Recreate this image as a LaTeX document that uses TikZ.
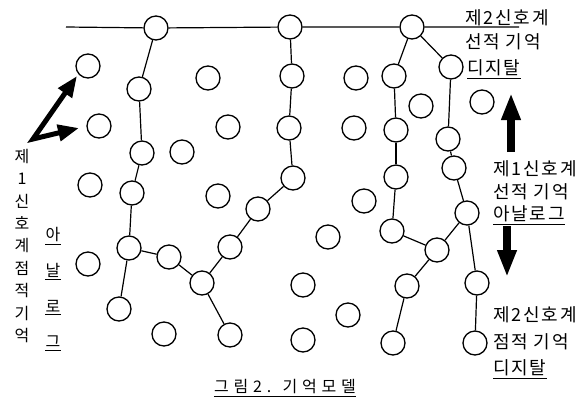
\documentclass[tikz,border=0pt]{standalone}
\usepackage{fontspec}
\setmainfont{Noto Sans CJK KR}
\newfontfamily\krfont{Noto Sans CJK KR}
\newfontfamily\lblfont[LetterSpace=10]{Noto Sans CJK KR}
\newfontfamily\capfont[LetterSpace=30]{Noto Sans CJK KR}
\usetikzlibrary{arrows.meta}
\tikzset{
  dot/.style={circle, draw, fill=white, line width=1.3pt, minimum size=24pt, inner sep=0pt},
  link/.style={line width=1.2pt},
  lbl/.style={font=\lblfont\fontsize{18}{21}\selectfont, inner sep=0pt, anchor=west},
  uline/.style={line width=0.9pt},
  bigarrow/.style={line width=7.5pt, -{Triangle[length=27pt,width=18pt]}},
  bentarrow/.style={line width=5pt, line join=miter, {Triangle[length=21pt,width=16pt]}-{Triangle[length=21pt,width=16pt]}},
}
\begin{document}
\begin{tikzpicture}[x=1pt,y=-1pt]
\useasboundingbox (0,0) rectangle (578,400);
\clip (0,0) rectangle (578,400);
% circles on the top line
\node[dot] (t1) at (156,28) {};
\node[dot] (t2) at (290,27) {};
\node[dot] (t3) at (412,27) {};
% other circles
\node[dot] (c1) at (88,66) {};
\node[dot] (c2) at (139,89) {};
\node[dot] (c3) at (208,78) {};
\node[dot] (c4) at (99,126) {};
\node[dot] (c5) at (228,127) {};
\node[dot] (c6) at (142,153) {};
\node[dot] (c7) at (182,152) {};
\node[dot] (c8) at (90,185) {};
\node[dot] (c9) at (132,193) {};
\node[dot] (c10) at (218,196) {};
\node[dot] (c11) at (258,209) {};
\node[dot] (c12) at (129,248) {};
\node[dot] (c13) at (169,257) {};
\node[dot] (c14) at (230,247) {};
\node[dot] (c15) at (88,264) {};
\node[dot] (c16) at (202,283) {};
\node[dot] (c17) at (119,309) {};
\node[dot] (c18) at (164,334) {};
\node[dot] (c19) at (230,335) {};
\node[dot] (c20) at (292,76) {};
\node[dot] (c21) at (356,78) {};
\node[dot] (c22) at (394,76) {};
\node[dot] (c23) at (451,67) {};
\node[dot] (c24) at (421,106) {};
\node[dot] (c25) at (482,102) {};
\node[dot] (c26) at (289,128) {};
\node[dot] (c27) at (354,128) {};
\node[dot] (c28) at (396,130) {};
\node[dot] (c29) at (448,139) {};
\node[dot] (c30) at (293,178) {};
\node[dot] (c31) at (396,177) {};
\node[dot] (c32) at (454,168) {};
\node[dot] (c33) at (364,201) {};
\node[dot] (c34) at (467,213) {};
\node[dot] (c35) at (328,237) {};
\node[dot] (c36) at (392,231) {};
\node[dot] (c37) at (437,250) {};
\node[dot] (c38) at (303,285) {};
\node[dot] (c39) at (407,286) {};
\node[dot] (c40) at (477,283) {};
\node[dot] (c41) at (348,315) {};
\node[dot] (c42) at (303,340) {};
\node[dot] (c43) at (393,343) {};
\node[dot] (c44) at (475,343) {};
% top line
\coordinate (L) at (66,27);
\coordinate (R) at (519,27);
\draw[link] (L) -- (t1) -- (t2) -- (t3) -- (R);
% connectors
\draw[link] (t1) -- (c2);
\draw[link] (c2) -- (c6);
\draw[link] (c6) -- (c9);
\draw[link] (c9) -- (c12);
\draw[link] (c12) -- (c17);
\draw[link] (c12) -- (c13);
\draw[link] (c13) -- (c16);
\draw[link] (c16) -- (c19);
\draw[link] (c16) -- (c14);
\draw[link] (c14) -- (c11);
\draw[link] (c11) -- (c30);
\draw[link] (c30) -- (c26);
\draw[link] (c26) -- (c20);
\draw[link] (c20) -- (t2);
\draw[link] (t3) -- (c22);
\draw[link] (c22) -- (c28);
\draw[link] (c28) -- (c31);
\draw[link] (c31) -- (c36);
\draw[link] (c36) -- (c37);
\draw[link] (c37) -- (c39);
\draw[link] (c39) -- (c43);
\draw[link] (c37) -- (c34);
\draw[link] (c34) -- (c40);
\draw[link] (c40) -- (c44);
\draw[link] (t3) -- (c23);
\draw[link] (c23) -- (c29);
\draw[link] (c29) -- (c32);
\draw[link] (c32) -- (c34);
% left bent double arrow
\coordinate (aT1) at (77,76);
\coordinate (aV) at (33,139);
\coordinate (aT2) at (79,128);
\draw[bentarrow] (aT1) -- (aV) -- (aT2);
% right arrows
\coordinate (upS) at (511,152);
\coordinate (upE) at (511,93);
\draw[bigarrow] (upS) -- (upE);
\coordinate (dnS) at (507,226);
\coordinate (dnE) at (507,277);
\draw[bigarrow] (dnS) -- (dnE);
% right labels
\node[lbl] (r1) at (465,18) {제2신호계};
\node[lbl] (r2) at (465,42) {선적 기억};
\node[lbl] (r3) at (467,68) {디지탈};
\draw[uline] ([yshift=-2pt]r3.south west) -- ([yshift=-2pt]r3.south east);
\node[lbl] (r4) at (493,169) {제1신호계};
\node[lbl] (r5) at (493,192) {선적 기억};
\node[lbl] (r6) at (493,214) {아날로그};
\draw[uline] ([yshift=-2pt]r6.south west) -- ([yshift=-2pt]r6.south east);
\node[lbl] (r7) at (493,315) {제2신호계};
\node[lbl] (r8) at (493,342) {점적 기억};
\node[lbl] (r9) at (493,368) {디지탈};
\draw[uline] ([yshift=-2pt]r9.south west) -- ([yshift=-2pt]r9.south east);
% left vertical labels
\node[font=\krfont\fontsize{16}{22.4}\selectfont, align=center, inner sep=0pt] (lv) at (22,246) {제\\1\\신\\호\\계\\점\\적\\기\\억};
\node[font=\krfont\fontsize{16}{18}\selectfont, inner sep=0pt] (va) at (53,235) {아};
\node[font=\krfont\fontsize{16}{18}\selectfont, inner sep=0pt] (vb) at (53,270) {날};
\node[font=\krfont\fontsize{16}{18}\selectfont, inner sep=0pt] (vc) at (53,306) {로};
\node[font=\krfont\fontsize{16}{18}\selectfont, inner sep=0pt] (vd) at (53,342) {그};
\draw[uline] ([yshift=-2pt]va.south west) -- ([yshift=-2pt]va.south east);
\draw[uline] ([yshift=-2pt]vb.south west) -- ([yshift=-2pt]vb.south east);
\draw[uline] ([yshift=-2pt]vc.south west) -- ([yshift=-2pt]vc.south east);
\draw[uline] ([yshift=-2pt]vd.south west) -- ([yshift=-2pt]vd.south east);
% caption
\node[font=\capfont\fontsize{16}{19}\selectfont, inner sep=0pt] (cap) at (285,387) {그림2. 기억모델};
\draw[uline] ([yshift=-2pt]cap.south west) -- ([yshift=-2pt]cap.south east);
\end{tikzpicture}
\end{document}
